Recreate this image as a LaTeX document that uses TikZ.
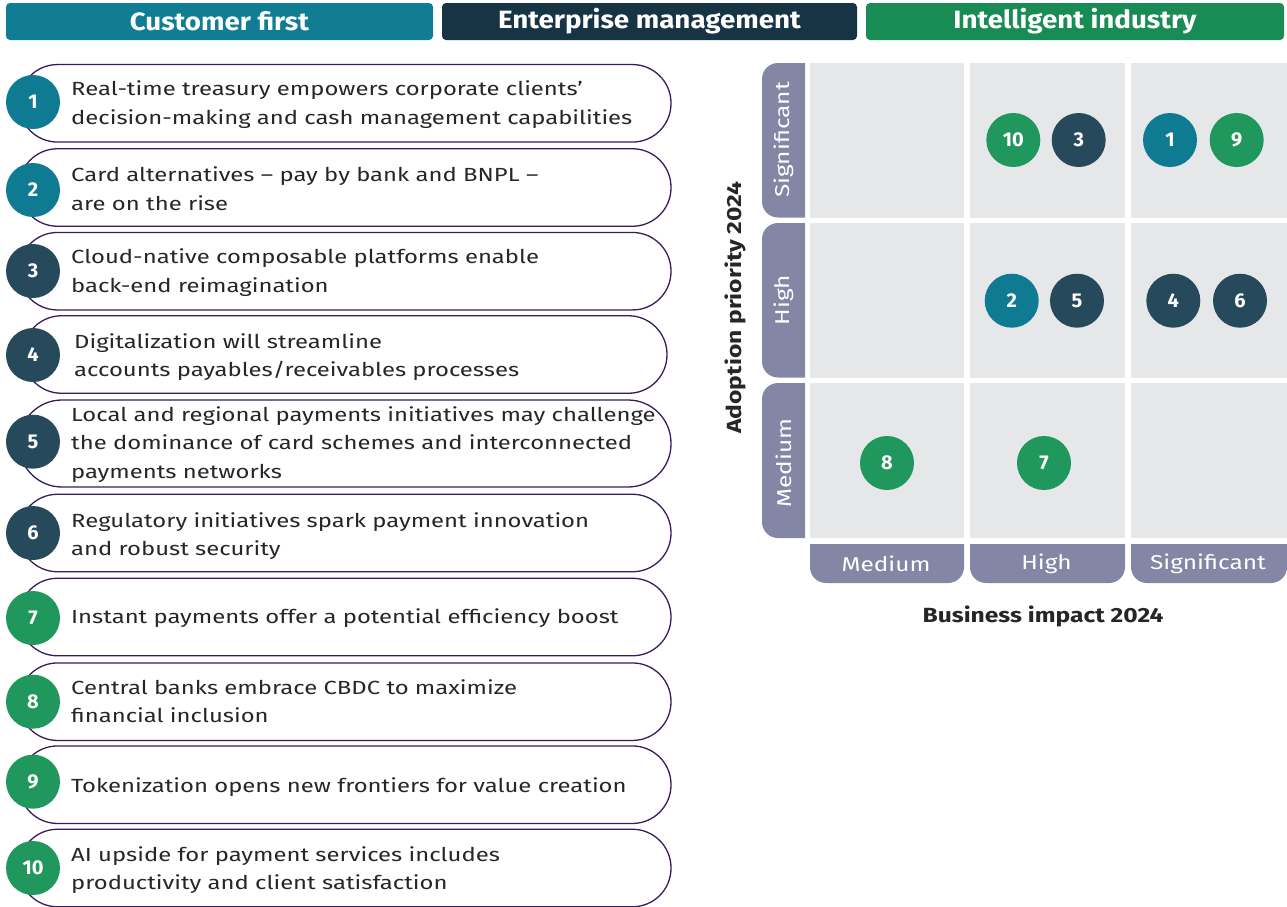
\documentclass[tikz,border=0pt]{standalone}
\usepackage{fontspec}
\setmainfont{Fira Sans}
\newfontfamily\listfont[FakeStretch=1.255]{Fira Sans}
\newfontfamily\tabfont[FakeStretch=1.22]{Fira Sans}
\newfontfamily\axfont[FakeStretch=1.2]{Fira Sans}
\newfontfamily\hdrfont[FakeStretch=1.11]{Fira Sans}
\definecolor{tealc}{HTML}{107D95}
\definecolor{navyc}{HTML}{173445}
\definecolor{greenc}{HTML}{198B55}
\definecolor{ctl}{HTML}{0F7B93}
\definecolor{cdk}{HTML}{264A5B}
\definecolor{cgr}{HTML}{1F975D}
\definecolor{tabc}{HTML}{8386A5}
\definecolor{cellc}{HTML}{E6E7E9}
\definecolor{boxc}{HTML}{3A1A5E}
\definecolor{txt}{HTML}{262626}
\begin{document}
\begin{tikzpicture}[x=1pt,y=-1pt,
  hdr/.style={rounded corners=4pt, inner sep=0pt, text=white, minimum height=37pt, font=\hdrfont\fontsize{25}{30}\selectfont\bfseries},
  itembox/.style={draw=boxc, line width=1.3pt, rounded corners=38.5pt, minimum height=77.5pt, minimum width=652pt, inner sep=0pt},
  num/.style={circle, minimum size=54pt, inner sep=0pt, text=white, font=\fontsize{20}{20}\selectfont\bfseries},
  itext/.style={anchor=west, align=left, inner sep=0pt, text=txt, font=\listfont\fontsize{19}{28.5}\selectfont},
  tabtext/.style={text=white, inner sep=0pt, font=\tabfont\fontsize{20}{20}\selectfont},
  axis/.style={text=txt, inner sep=0pt, font=\axfont\fontsize{20.5}{20}\selectfont\bfseries}
]
\useasboundingbox (0,0) rectangle (1287,906);
% headers
\node[hdr, fill=tealc, minimum width=427pt] (h1) at (219.5,21.5) {Customer first};
\node[hdr, fill=navyc, minimum width=415pt] (h2) at (649.5,21.5) {Enterprise management};
\node[hdr, fill=greenc, minimum width=418pt] (h3) at (1075,21.5) {Intelligent industry};
% list boxes
\node[itembox] (b1) at (345,103.3) {};
\node[itembox] (b2) at (345,187.5) {};
\node[itembox] (b3) at (345,271.2) {};
\node[itembox, minimum width=644pt] (b4) at (345,354.5) {};
\node[itembox, minimum height=87pt, rounded corners=43pt] (b5) at (345,443.5) {};
\node[itembox] (b6) at (345,533) {};
\node[itembox] (b7) at (345,617) {};
\node[itembox] (b8) at (345,701.7) {};
\node[itembox] (b9) at (345,784.7) {};
\node[itembox] (b10) at (345,868) {};
% circles
\node[num, fill=ctl] (c1) at (33,102) {1};
\node[num, fill=ctl] (c2) at (33,190) {2};
\node[num, fill=cdk] (c3) at (33,271) {3};
\node[num, fill=cdk] (c4) at (33,355) {4};
\node[num, fill=cdk] (c5) at (33,441.7) {5};
\node[num, fill=cdk] (c6) at (33,533) {6};
\node[num, fill=cgr] (c7) at (33,618) {7};
\node[num, fill=cgr] (c8) at (33,701.7) {8};
\node[num, fill=cgr] (c9) at (33,781.7) {9};
\node[num, fill=cgr] (c10) at (33,868) {10};
% texts
\node[itext] (t1) at (71,104.5) {Real-time treasury empowers corporate clients’\\decision-making and cash management capabilities};
\node[itext] (t2) at (71,188.5) {Card alternatives – pay by bank and BNPL –\\are on the rise};
\node[itext] (t3) at (71,272.5) {Cloud-native composable platforms enable\\back-end reimagination};
\node[itext] (t4) at (74,357) {Digitalization will streamline\\accounts payables/receivables processes};
\node[itext] (t5) at (71,444.5) {Local and regional payments initiatives may challenge\\the dominance of card schemes and interconnected\\payments networks};
\node[itext] (t6) at (71,536) {Regulatory initiatives spark payment innovation\\and robust security};
\node[itext] (t7) at (71,618) {Instant payments offer a potential efficiency boost};
\node[itext] (t8) at (71,701) {Central banks embrace CBDC to maximize\\financial inclusion};
\node[itext] (t9) at (71,787) {Tokenization opens new frontiers for value creation};
\node[itext] (t10) at (71,870) {AI upside for payment services includes\\productivity and client satisfaction};
% matrix cells
\foreach \cx/\cw in {810/964,970/1125,1131/1287}{
  \foreach \ry/\rh in {63/217.5,223/377.5,383/538}{
    \fill[cellc] (\cx,\ry) rectangle (\cw,\rh);
  }
}
% left tabs
\begin{scope}
\clip (700,0) rectangle (805,600);
\fill[tabc, rounded corners=16pt] (762,63) rectangle (830,217.5);
\fill[tabc, rounded corners=16pt] (762,223) rectangle (830,377.5);
\fill[tabc, rounded corners=16pt] (762,383) rectangle (830,538);
\end{scope}
% bottom tabs
\begin{scope}
\clip (800,544) rectangle (1287,600);
\fill[tabc, rounded corners=16pt] (810,520) rectangle (964,583);
\fill[tabc, rounded corners=16pt] (970,520) rectangle (1125,583);
\fill[tabc, rounded corners=16pt] (1131,520) rectangle (1287,583);
\end{scope}
\node[tabtext, rotate=90] (r1) at (784,140) {Significant};
\node[tabtext, rotate=90] (r2) at (784,300) {High};
\node[tabtext, rotate=90] (r3) at (784,463) {Medium};
\node[tabtext] (k1) at (886,564) {Medium};
\node[tabtext] (k2) at (1046.5,564) {High};
\node[tabtext] (k3) at (1208,564) {Significant};
\node[axis, rotate=90] (ya) at (735,307.5) {Adoption priority 2024};
\node[axis] (xa) at (1043,616) {Business impact 2024};
% matrix circles
\node[num, fill=cgr] (m10) at (1013.3,140) {10};
\node[num, fill=cdk] (m3) at (1078.7,140) {3};
\node[num, fill=ctl] (m1) at (1170,140) {1};
\node[num, fill=cgr] (m9) at (1236.7,140) {9};
\node[num, fill=ctl] (m2) at (1011.7,300.7) {2};
\node[num, fill=cdk] (m5) at (1077,300.7) {5};
\node[num, fill=cdk] (m4) at (1173.3,300.7) {4};
\node[num, fill=cdk] (m6) at (1240,300.7) {6};
\node[num, fill=cgr] (m8) at (887,463) {8};
\node[num, fill=cgr] (m7) at (1044,463) {7};
\end{tikzpicture}
\end{document}
